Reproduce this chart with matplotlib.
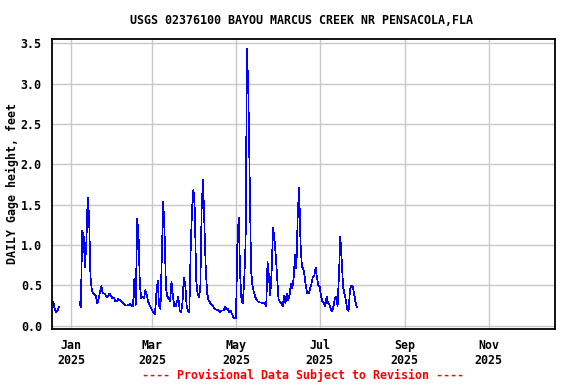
"""USGS daily gage height chart, Bayou Marcus Creek, 2025."""

import numpy as np
import pandas as pd
import matplotlib

matplotlib.use("Agg")
from matplotlib import pyplot as plt  # noqa: E402

TITLE = "USGS 02376100 BAYOU MARCUS CREEK NR PENSACOLA,FLA"
YLABEL = "DAILY Gage height, feet"
FOOTER = "---- Provisional Data Subject to Revision ----"

# Dec 18-23, 2024
dec_2024 = [0.28, 0.30, 0.20, 0.17, 0.19, 0.23]
# Jan 7-31, 2025
jan = [0.29, 0.23, 1.18, 1.12, 0.73, 1.03, 1.59, 1.36, 0.61, 0.44, 0.40, 0.38,
       0.37, 0.28, 0.34, 0.42, 0.49, 0.40, 0.40, 0.38, 0.35, 0.37, 0.40, 0.37, 0.34]
feb = [0.35, 0.31, 0.30, 0.33, 0.32, 0.31, 0.29, 0.28, 0.26, 0.25, 0.25, 0.26,
       0.27, 0.24, 0.24, 0.58, 0.26, 1.32, 1.14, 0.50, 0.34, 0.36, 0.34, 0.44,
       0.38, 0.30, 0.26, 0.22]
mar = [0.19, 0.16, 0.14, 0.40, 0.56, 0.24, 0.21, 0.88, 1.54, 1.14, 0.46, 0.36,
       0.34, 0.30, 0.55, 0.38, 0.24, 0.24, 0.30, 0.36, 0.19, 0.17, 0.28, 0.59,
       0.52, 0.26, 0.19, 0.17, 0.94, 1.45, 1.69]
apr = [1.44, 0.57, 0.40, 0.36, 0.46, 1.46, 1.81, 1.27, 0.69, 0.40, 0.32, 0.29,
       0.26, 0.25, 0.22, 0.20, 0.20, 0.19, 0.17, 0.18, 0.19, 0.19, 0.24, 0.20,
       0.21, 0.17, 0.19, 0.15, 0.11, 0.09]
may = [0.09, 1.02, 1.34, 0.65, 0.32, 0.28, 0.57, 1.02, 3.43, 2.90, 1.83, 0.69,
       0.50, 0.42, 0.36, 0.32, 0.30, 0.29, 0.29, 0.28, 0.28, 0.28, 0.24, 0.79,
       0.61, 0.38, 0.69, 1.21, 1.08, 0.86, 0.60]
jun = [0.33, 0.30, 0.28, 0.24, 0.37, 0.28, 0.40, 0.32, 0.38, 0.52, 0.46, 0.59,
       0.88, 0.71, 1.39, 1.71, 1.03, 0.73, 0.71, 0.61, 0.48, 0.40, 0.40, 0.46,
       0.52, 0.61, 0.61, 0.72, 0.60, 0.50]
# Jul 1-28
jul = [0.48, 0.36, 0.30, 0.28, 0.24, 0.36, 0.29, 0.26, 0.21, 0.18, 0.24, 0.34,
       0.36, 0.24, 0.63, 1.10, 0.81, 0.48, 0.40, 0.32, 0.21, 0.18, 0.44, 0.50,
       0.49, 0.40, 0.30, 0.23]

tick_dates = ["2025-01-01", "2025-03-01", "2025-05-01", "2025-07-01",
              "2025-09-01", "2025-11-01"]
tick_labels = ["Jan\n2025", "Mar\n2025", "May\n2025", "Jul\n2025",
               "Sep\n2025", "Nov\n2025"]
y_ticks = [0.0, 0.5, 1.0, 1.5, 2.0, 2.5, 3.0, 3.5]

dates = pd.date_range("2024-12-18", "2025-07-28", freq="D")
series = pd.Series(np.nan, index=dates)
series["2024-12-18":"2024-12-23"] = dec_2024
series["2025-01-07":"2025-01-31"] = jan
series["2025-02-01":"2025-02-28"] = feb
series["2025-03-01":"2025-03-31"] = mar
series["2025-04-01":"2025-04-30"] = apr
series["2025-05-01":"2025-05-31"] = may
series["2025-06-01":"2025-06-30"] = jun
series["2025-07-01":"2025-07-28"] = jul

font = ["DejaVu Sans Mono"]
fig = plt.figure(figsize=(5.76, 3.84), dpi=100, facecolor="white")
ax = fig.add_axes([51.5 / 576, 1 - 329 / 384, 503 / 576, 289.7 / 384])

ax.plot(series.index, series.values, color="#0000ff", linewidth=0.5,
        antialiased=False)

ax.set_xlim(pd.Timestamp("2024-12-17 15:00"), pd.Timestamp("2025-12-19 00:00"))
ax.set_ylim(-0.04, 3.55)
ax.set_xticks(pd.to_datetime(tick_dates))
ax.set_xticklabels(tick_labels)
ax.set_yticks(y_ticks)
ax.set_yticklabels([f"{v:.1f}" for v in y_ticks])
ax.grid(True, color="#c8c8c8", linewidth=1.0)
ax.set_axisbelow(True)
ax.tick_params(length=0, pad=7)
for lab in ax.get_xticklabels() + ax.get_yticklabels():
    lab.set_fontfamily(font)
    lab.set_fontweight("bold")
    lab.set_fontsize(8.4)
for spine in ax.spines.values():
    spine.set_linewidth(1.3)
    spine.set_color("black")

fig.text(302 / 576, 1 - 20 / 384, TITLE, ha="center", va="center",
         family=font, fontweight="bold", fontsize=8.4)
fig.text(12 / 576, 1 - 184 / 384, YLABEL, ha="center", va="center",
         rotation=90, family=font, fontweight="bold", fontsize=8.4)
fig.text(303 / 576, 1 - 375 / 384, FOOTER, ha="center", va="center",
         family=font, fontweight="bold", fontsize=8.4, color="#ff0000")

fig.savefig("out.png", dpi=100, facecolor="white")
